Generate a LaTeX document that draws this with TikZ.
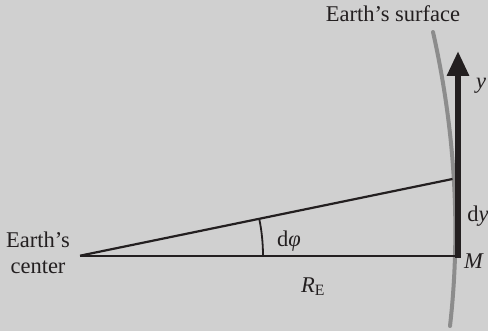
\documentclass[tikz,border=0pt]{standalone}
\usepackage{fontspec}
\setmainfont{Liberation Serif}
\usetikzlibrary{arrows.meta,calc}
\definecolor{bg}{RGB}{208,208,208}
\definecolor{ink}{RGB}{35,31,32}
\definecolor{surf}{RGB}{140,140,140}
\begin{document}
\begin{tikzpicture}[x=1pt,y=-1pt,
  lbl/.style={text=ink,font=\fontsize{22.5}{27}\selectfont,inner sep=0pt},
  geom/.style={draw=ink,line width=2.2pt},
  every node/.style={inner sep=0pt}]
\fill[bg] (0,0) rectangle (488,331);
\useasboundingbox (0,0) rectangle (488,331);
% points
\coordinate (C) at (80,255.7);
\coordinate (M) at (454.5,255.7);
\coordinate (P) at (452.5,179);
\coordinate (S1) at (433,32);
\coordinate (S2) at (450,326);
\coordinate (A0) at (458,258);
\coordinate (A1) at (458,51);
% Earth's surface
\draw[surf,line width=4pt,line cap=round] (S1) .. controls (455,130) and (461,230) .. (S2);
% lines
\draw[geom] (C) -- (M);
\draw[geom] (C) -- (P);
\draw[ink,line width=1.8pt] ($(C)+(183,0)$) arc[start angle=0,end angle=-11.65,radius=183];
% arrow
\draw[ink,line width=6pt,-{Triangle[width=21pt,length=25pt]}] (A0) -- (A1);
% labels
\node[lbl] (ts) at (393,14) {Earth’s surface};
\node[lbl] (ty) at (481,86) {\textit{y}};
\node[lbl] (tdy) at (478,216) {d\textit{y}};
\node[lbl] (tM) at (474,261) {\textit{M}};
\node[lbl] (tR) at (313,287) {\textit{R}\textsubscript{E}};
\node[lbl] (tdphi) at (289,241) {d\textit{φ}};
\node[lbl,align=center,font=\fontsize{22.5}{26}\selectfont] (tC) at (38,253) {Earth’s\\center};
\end{tikzpicture}
\end{document}
